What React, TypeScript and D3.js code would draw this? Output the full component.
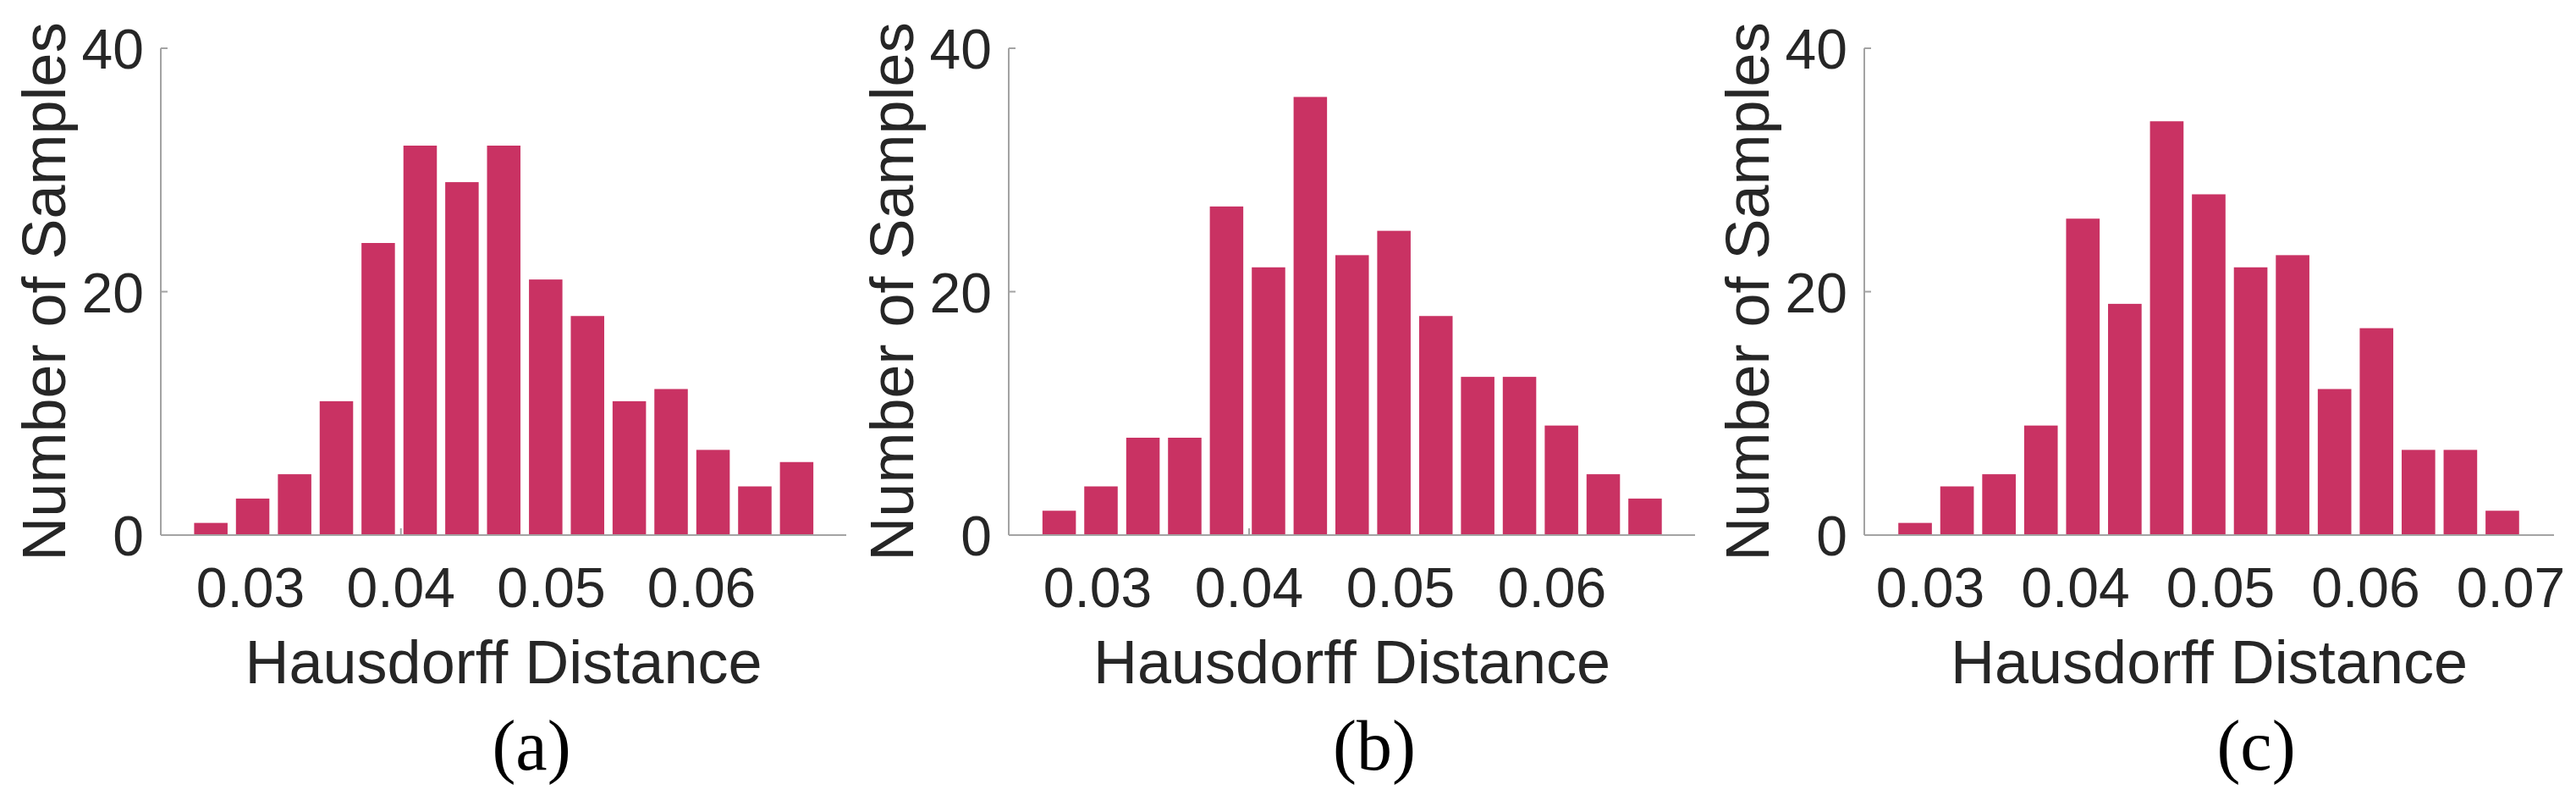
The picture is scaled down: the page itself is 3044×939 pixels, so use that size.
import React from "react";
import * as d3 from "d3";

// ---- data ----
const centersA = [0.02736, 0.03014, 0.03293, 0.03571, 0.03849, 0.04128, 0.04406, 0.04684, 0.04963, 0.05241, 0.05519, 0.05797, 0.06076, 0.06354, 0.06632];
const countsA = [1, 3, 5, 11, 24, 32, 29, 32, 21, 18, 11, 12, 7, 4, 6];

const centersB = [0.02746, 0.03022, 0.03299, 0.03575, 0.03851, 0.04128, 0.04404, 0.0468, 0.04956, 0.05233, 0.05509, 0.05785, 0.06062, 0.06338, 0.06614];
const countsB = [2, 4, 8, 8, 27, 22, 36, 23, 25, 18, 13, 13, 9, 5, 3];

const centersC = [0.02895, 0.03184, 0.03473, 0.03762, 0.04051, 0.0434, 0.04629, 0.04918, 0.05207, 0.05496, 0.05785, 0.06074, 0.06363, 0.06652, 0.06941];
const countsC = [1, 4, 5, 9, 26, 19, 34, 28, 22, 23, 12, 17, 7, 7, 2];

const xTicksAB = [0.03, 0.04, 0.05, 0.06];
const xTicksC = [0.03, 0.04, 0.05, 0.06, 0.07];
const yTicks = [0, 20, 40];
const yDomain = [0, 40];

const xDomainA = [0.02403, 0.06962];
const xDomainB = [0.02413, 0.06944];
const xDomainC = [0.02545, 0.07297];

const xTitle = "Hausdorff Distance";
const yTitle = "Number of Samples";
const panelLabels = ["(a)", "(b)", "(c)"];

// ---- layout ----
const W = 3044;
const H = 939;
const TOP = 57;
const BOTTOM = 632;
const BAR_COLOR = "#C93263";
const AXIS_COLOR = "#A3A3A3";
const TEXT_COLOR = "#262626";
const SANS = "'Liberation Sans', Arial, Helvetica, sans-serif";
const SERIF = "'Liberation Serif', 'Times New Roman', serif";

type PanelProps = {
  centers: number[];
  counts: number[];
  xDomain: number[];
  xTicks: number[];
  left: number;
  right: number;
  label: string;
  labelX: number;
};

function Panel({ centers, counts, xDomain, xTicks, left, right, label, labelX }: PanelProps) {
  const x = d3.scaleLinear().domain(xDomain).range([left, right]);
  const y = d3.scaleLinear().domain(yDomain).range([BOTTOM, TOP]);
  const pitch = x(centers[1]) - x(centers[0]);
  const bw = pitch * 0.8;
  const fmt = d3.format(".2f");
  return (
    <g>
      {/* inward ticks */}
      {xTicks.map((t) => (
        <line key={"xt" + t} x1={x(t)} x2={x(t)} y1={BOTTOM} y2={BOTTOM - 8} stroke={AXIS_COLOR} strokeWidth={2} />
      ))}
      {yTicks.map((t) => (
        <line key={"yt" + t} x1={left} x2={left + 8} y1={y(t)} y2={y(t)} stroke={AXIS_COLOR} strokeWidth={2} />
      ))}
      {/* bars */}
      {counts.map((c, i) => (
        <rect
          key={"b" + i}
          x={x(centers[i]) - bw / 2}
          y={y(c)}
          width={bw}
          height={y(0) - y(c)}
          fill={BAR_COLOR}
        />
      ))}
      {/* axes lines */}
      <line x1={left} x2={right} y1={BOTTOM} y2={BOTTOM} stroke={AXIS_COLOR} strokeWidth={2} />
      <line x1={left} x2={left} y1={TOP} y2={BOTTOM} stroke={AXIS_COLOR} strokeWidth={2} />
      {/* tick labels */}
      {xTicks.map((t) => (
        <text key={"xl" + t} x={x(t)} y={717} textAnchor="middle" fontFamily={SANS} fontSize={66} fill={TEXT_COLOR}>
          {fmt(t)}
        </text>
      ))}
      {yTicks.map((t) => (
        <text key={"yl" + t} x={left - 20} y={y(t) + 24} textAnchor="end" fontFamily={SANS} fontSize={66} fill={TEXT_COLOR}>
          {t}
        </text>
      ))}
      {/* axis titles */}
      <text x={(left + right) / 2} y={807} textAnchor="middle" fontFamily={SANS} fontSize={72} fill={TEXT_COLOR}>
        {xTitle}
      </text>
      <text
        transform={`translate(${left - 113},${(TOP + BOTTOM) / 2}) rotate(-90)`}
        textAnchor="middle"
        fontFamily={SANS}
        fontSize={72}
        fill={TEXT_COLOR}
      >
        {yTitle}
      </text>
      {/* panel label */}
      <text x={labelX} y={909} textAnchor="middle" fontFamily={SERIF} fontSize={84} fill="#000">
        {label}
      </text>
    </g>
  );
}

export default function App() {
  return (
    <svg
      width={W}
      height={H}
      viewBox={`0 0 ${W} ${H}`}
      style={{ position: "absolute", left: 0, top: 0, background: "#fff" }}
    >
      <rect x={0} y={0} width={W} height={H} fill="#fff" />
      <Panel centers={centersA} counts={countsA} xDomain={xDomainA} xTicks={xTicksAB} left={190} right={1000} label={panelLabels[0]} labelX={628} />
      <Panel centers={centersB} counts={countsB} xDomain={xDomainB} xTicks={xTicksAB} left={1192} right={2003} label={panelLabels[1]} labelX={1624} />
      <Panel centers={centersC} counts={countsC} xDomain={xDomainC} xTicks={xTicksC} left={2203} right={3018} label={panelLabels[2]} labelX={2666} />
    </svg>
  );
}
